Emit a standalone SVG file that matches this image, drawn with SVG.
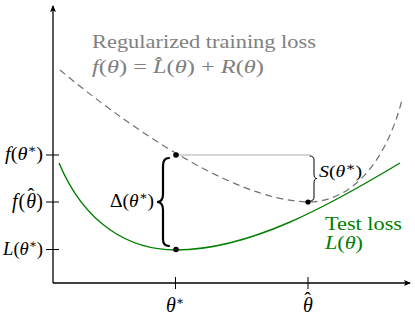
<svg xmlns="http://www.w3.org/2000/svg" width="415" height="316" viewBox="0 0 415 316">
<style>
text{font-family:"Liberation Serif","DejaVu Serif",serif;fill:#000}
.m{font-style:italic}
.gray{fill:#808080}
.green{fill:#008000}
.axis{stroke:#000;stroke-width:1.3;fill:none}
.tick{stroke:#000;stroke-width:1;fill:none}
.dash{stroke:#707070;stroke-width:1.2;fill:none;stroke-dasharray:7 4.5}
.test{stroke:#008000;stroke-width:1.4;fill:none}
.guide{stroke:#999;stroke-width:0.8;fill:none}
.brace{stroke:#000;fill:none;stroke-linecap:round}
.sup{font-size:12px}
</style>
<defs>
<marker id="arr" markerWidth="8" markerHeight="8" refX="6" refY="4" orient="auto" markerUnits="userSpaceOnUse">
<path d="M0,1 L7,4 L0,7 L1.5,4 Z" fill="#000"/>
</marker>
</defs>
<g id="axes">
<line class="axis" x1="53" y1="283" x2="53" y2="6" marker-end="url(#arr)"/>
<line class="axis" x1="53" y1="283" x2="410" y2="283" marker-end="url(#arr)"/>
<line class="tick" x1="46" y1="155" x2="59" y2="155"/>
<line class="tick" x1="46" y1="202" x2="59" y2="202"/>
<line class="tick" x1="46" y1="249.5" x2="59" y2="249.5"/>
<line class="tick" x1="175.5" y1="277" x2="175.5" y2="289"/>
<line class="tick" x1="308" y1="277" x2="308" y2="289"/>
</g>
<g id="tick-labels" font-size="19">
<text x="5" y="160" textLength="38" lengthAdjust="spacingAndGlyphs"><tspan class="m">f</tspan>(<tspan class="m">θ</tspan><tspan class="sup" dy="-7">∗</tspan><tspan dy="7">)</tspan></text>
<text x="12" y="208" font-size="20"><tspan class="m">f</tspan><tspan dx="1">(</tspan><tspan class="m" dx="1">θ</tspan><tspan dx="-8.5" dy="-5">ˆ</tspan><tspan dx="2" dy="5">)</tspan></text>
<text x="3" y="255" textLength="40" lengthAdjust="spacingAndGlyphs"><tspan class="m">L</tspan>(<tspan class="m">θ</tspan><tspan class="sup" dy="-7">∗</tspan><tspan dy="7">)</tspan></text>
<text x="166" y="312" font-size="20"><tspan class="m">θ</tspan><tspan class="sup" dy="-7">∗</tspan></text>
<text x="303" y="312" font-size="20"><tspan class="m">θ</tspan><tspan dx="-8.5" dy="-5">ˆ</tspan></text>
</g>
<g id="connectors">
<line class="guide" x1="176" y1="155" x2="310" y2="155"/>
</g>
<g id="training-loss">
<path class="dash" d="M60,70 C120,120 230,200 308,202 C350,202 385,165 402,100"/>
<text class="gray" x="92" y="48" font-size="19" textLength="224" lengthAdjust="spacingAndGlyphs">Regularized training loss</text>
<text class="gray" x="92" y="73" font-size="19" textLength="172" lengthAdjust="spacingAndGlyphs"><tspan class="m">f</tspan>(<tspan class="m">θ</tspan>) = <tspan class="m">L̂</tspan>(<tspan class="m">θ</tspan>) + <tspan class="m">R</tspan>(<tspan class="m">θ</tspan>)</text>
</g>
<g id="test-loss">
<path class="test" d="M59,163 C85,225 130,250 176,250 C250,250 330,205 400,163"/>
<text class="green" x="325" y="230" font-size="19" textLength="77" lengthAdjust="spacingAndGlyphs">Test loss</text>
<text class="green" x="325" y="249" font-size="19" textLength="38" lengthAdjust="spacingAndGlyphs"><tspan class="m">L</tspan>(<tspan class="m">θ</tspan>)</text>
</g>
<g id="point-theta-star">
<circle cx="176" cy="155" r="2.8" fill="#000"/>
<circle cx="176" cy="249.5" r="2.8" fill="#000"/>
</g>
<g id="point-theta-hat">
<circle cx="308" cy="202" r="2.6" fill="#000"/>
</g>
<g id="delta-brace">
<path class="brace" stroke-width="2.2" d="M169,158 Q163,158 163,166 L163,194 Q163,202 157,202 Q163,202 163,210 L163,239 Q163,246 169,246"/>
<text x="110" y="207" font-size="18" textLength="44" lengthAdjust="spacingAndGlyphs">Δ(<tspan class="m">θ</tspan><tspan class="sup" dy="-7">∗</tspan><tspan dy="7">)</tspan></text>
</g>
<g id="s-brace">
<path class="brace" stroke-width="1" d="M310,156 Q314,156 314,160 L314,174 Q314,178.5 317,178.5 Q314,178.5 314,183 L314,197 Q314,201 310,201"/>
<text x="319" y="177" font-size="16" textLength="43" lengthAdjust="spacingAndGlyphs"><tspan class="m">S</tspan>(<tspan class="m">θ</tspan><tspan class="sup" dy="-6" font-size="11">∗</tspan><tspan dy="6">)</tspan></text>
</g>
</svg>
